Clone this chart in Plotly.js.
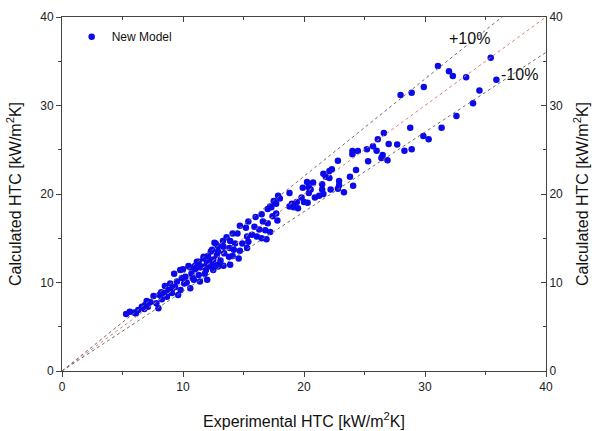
<!DOCTYPE html>
<html>
<head>
<meta charset="utf-8">
<script src="https://cdn.plot.ly/plotly-3.0.1.min.js"></script>
<style>html,body{margin:0;padding:0;background:#fff;}#chart{width:597px;height:431px;}</style>
</head>
<body>
<div id="chart"></div>
<script>
// Experimental HTC (x) and calculated HTC (y), kW/m2K
const expHTC = [
 5.3,5.6,5.96,6.3,6.6,6.87,7.1,7.3,7.56,7.8,8.05,8.25,7.97,8.44,8.67,8.8,8.94,9.08,9.27,9.35,9.5,9.6,9.77,9.8,10.0,10.1,10.2,10.45,10.6,10.7,10.9,11.0,11.15,11.3,11.4,11.56,11.7,11.8,12.0,12.1,12.25,12.4,12.5,12.7,12.8,12.86,
 6.1,7.0,8.5,9.1,10.3,10.8,11.9,9.9,8.2,6.8,
 17.86,17.5,17.2,17.7,17.0,17.7,17.4,16.5,16.0,15.4,16.6,17.0,17.8,14.7,15.2,15.9,16.3,16.8,17.2,14.1,14.5,15.7,15.3,16.1,16.5,16.9,13.6,13.3,13.9,14.3,14.9,15.4,12.6,12.9,13.35,13.85,14.2,14.7,15.3,12.3,12.9,13.4,13.8,14.1,14.6,12.06,11.7,12.5,13.1,11.3,11.98,12.4,12.9,11.0,10.6,11.4,13.9,13.35,
 22.8,24.3,23.8,22.3,22.1,21.6,21.8,22.1,22.9,22.9,24.06,22.8,23.3,20.25,20.75,21.5,20.4,20.55,19.9,21.5,22.2,20.4,21.6,18.8,21.25,20.9,19.8,18.0,20.0,20.3,19.4,19.0,18.8,19.15,17.3,19.5,
 28.9,27.98,28.78,26.6,26.1,25.7,25.2,24.45,24.0,24.0,26.0,27.0,27.7,28.3,28.9,25.3,26.5,26.4,26.9,
 31.07,35.43,31.98,32.3,33.4,29.9,35.9,34.5,33.97,32.6,31.37,29.86,30.3
];
const calcHTC = [
 6.44,6.7,6.6,6.9,7.27,7.46,7.27,7.8,8.47,7.65,8.6,8.1,7.08,8.8,8.4,9.15,9.9,8.8,11.0,9.5,10.1,8.6,11.4,9.15,11.5,9.9,10.65,11.86,9.34,11.0,10.3,11.5,12.35,10.85,10.1,11.8,12.9,11.0,10.3,11.8,12.5,13.7,11.4,14.4,13.1,12.0,
 6.5,7.9,9.6,9.3,10.0,10.5,11.4,10.5,8.9,7.0,
 19.8,19.2,18.6,18.9,18.3,17.8,17.5,17.7,17.4,16.9,16.9,16.7,17.0,16.4,16.2,16.3,16.0,15.9,15.7,15.55,15.55,15.4,15.2,15.2,15.0,14.9,15.1,14.7,14.7,14.4,14.4,14.6,14.5,14.1,14.05,13.9,13.7,13.6,13.9,13.5,13.5,13.3,12.9,13.0,12.7,13.0,12.7,12.6,12.5,12.35,12.2,12.0,11.8,11.9,11.7,11.7,12.0,11.9,
 23.76,22.7,21.95,22.8,22.6,22.3,21.95,21.8,21.47,21.0,20.94,20.6,20.2,21.36,21.3,21.1,20.75,20.5,20.7,20.5,20.5,20.1,20.0,20.1,19.8,19.6,19.6,19.5,19.1,19.0,19.1,18.9,18.6,18.5,18.5,18.4,
 31.45,31.2,27.5,26.9,26.2,25.4,25.05,24.86,24.86,24.5,24.9,25.65,25.6,24.9,25.05,23.7,24.4,24.07,23.8,
 34.46,35.4,33.86,33.33,33.2,32.1,32.9,31.7,30.25,28.8,27.5,26.55,26.2
];
// reference lines: y = ratio * x
const refX = [0, 40];
const refRatios = [1.0, 1.1, 0.9];
const refColors = ['rgb(225,120,120)', 'rgb(110,110,110)', 'rgb(110,110,110)'];
const bandLabels = ['+10%', '-10%'];

const traces = [];
refRatios.forEach((r, i) => {
  traces.push({
    x: refX, y: refX.map(v => v * r), xaxis: 'x2', yaxis: 'y2',
    type: 'scatter', mode: 'lines', showlegend: false, hoverinfo: 'skip',
    line: {color: refColors[i], width: 1, dash: 'dot'}
  });
});
traces.push({
  x: expHTC, y: calcHTC, type: 'scatter', mode: 'markers', name: 'New Model',
  marker: {color: 'rgb(10,10,235)', size: 6.5}
});

const tickFont = {family: 'Liberation Sans, Arial, sans-serif', size: 12, color: '#222'};
const titleFont = {family: 'Liberation Sans, Arial, sans-serif', size: 16, color: '#111'};
const common = {range: [0, 40], dtick: 10, showgrid: false, zeroline: false, showline: true,
  linecolor: '#444', linewidth: 1, tickcolor: '#444', ticklen: 5, tickfont: tickFont,
  minor: {dtick: 5, ticklen: 3, tickcolor: '#444', ticks: 'inside'}};

const layout = {
  width: 597, height: 431,
  margin: {l: 62, r: 51, t: 17, b: 60},
  paper_bgcolor: '#fff', plot_bgcolor: '#fff',
  font: {family: 'Liberation Sans, Arial, sans-serif'},
  xaxis: Object.assign({}, common, {ticks: 'outside', minor: Object.assign({}, common.minor, {ticks: 'outside'}),
    title: {text: 'Experimental HTC [kW/m<sup>2</sup>K]', font: titleFont, standoff: 22}}),
  yaxis: Object.assign({}, common, {ticks: 'outside', minor: Object.assign({}, common.minor, {ticks: 'outside'}),
    title: {text: 'Calculated HTC [kW/m<sup>2</sup>K]', font: titleFont, standoff: 14}}),
  xaxis2: Object.assign({}, common, {overlaying: 'x', side: 'top', ticks: 'inside', showticklabels: false}),
  yaxis2: Object.assign({}, common, {overlaying: 'y', side: 'right', anchor: 'x2', ticks: 'inside',
    title: {text: 'Calculated HTC [kW/m<sup>2</sup>K]', font: titleFont, standoff: 14}}),
  showlegend: true,
  legend: {x: 0.02, y: 0.985, xanchor: 'left', yanchor: 'top', bgcolor: 'rgba(0,0,0,0)',
    font: {family: 'Liberation Sans, Arial, sans-serif', size: 12, color: '#111'}},
  annotations: [
    {x: 33.7, y: 37.6, xref: 'x', yref: 'y', text: bandLabels[0], showarrow: false, font: titleFont},
    {x: 37.85, y: 33.45, xref: 'x', yref: 'y', text: bandLabels[1], showarrow: false, font: titleFont}
  ]
};

Plotly.newPlot('chart', traces, layout, {staticPlot: true, displayModeBar: false});
</script>
</body>
</html>
